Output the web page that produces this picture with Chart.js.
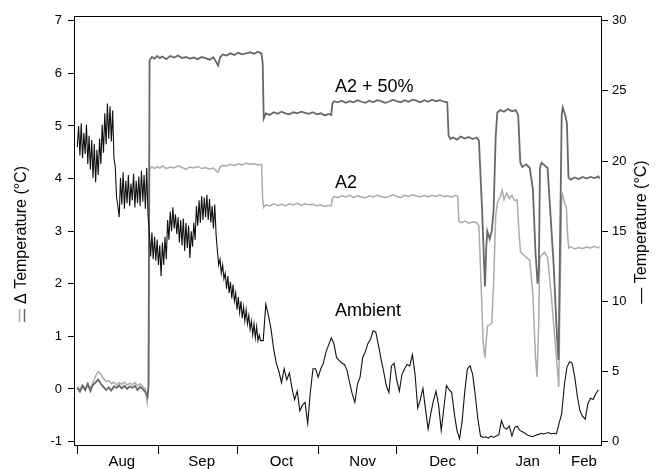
<!DOCTYPE html>
<html>
<head>
<meta charset="utf-8">
<script src="https://cdn.jsdelivr.net/npm/chart.js@4.4.0/dist/chart.umd.min.js"></script>
<style>
  html, body { margin: 0; padding: 0; background: #fff; }
</style>
</head>
<body>
<canvas id="tempChart" width="663" height="469"></canvas>
<script>
// x axis: days counted from 1 Aug
const monthNames = ["Aug", "Sep", "Oct", "Nov", "Dec", "Jan", "Feb"];
const monthStarts = [0, 31, 61, 92, 122, 153, 184];
const monthLabelAt = [17, 47.5, 78, 109, 139.5, 172, 193.5];

const leftTicks = [-1, 0, 1, 2, 3, 4, 5, 6, 7];
const rightTicks = [0, 5, 10, 15, 20, 25, 30];

// ambient temperature (right axis)
// twice a day (day / night) from 1 Aug to day 70
const ambEarly = [
  21.0, 22.5, 20.4, 22.7, 20.2, 22.0, 20.5, 22.6, 19.8, 21.8,
  19.4, 21.5, 18.8, 21.2, 18.5, 20.8, 19.0, 21.6, 19.8, 22.6,
  20.6, 23.4, 21.2, 24.1, 21.6, 23.9, 21.4, 23.6, 20.2, 19.6,
  17.4, 16.8, 16.0, 18.8, 16.9, 19.2, 16.6, 18.6, 17.0, 19.0,
  16.8, 18.4, 17.2, 19.1, 16.7, 18.6, 17.0, 18.9, 16.8, 19.3,
  17.1, 19.0, 16.6, 19.5, 16.2, 15.0, 13.2, 14.9, 13.0, 14.6,
  12.9, 14.4, 12.6, 14.0, 11.8, 14.2, 12.6, 14.6, 13.0, 15.8,
  14.4, 16.4, 15.0, 16.7, 15.2, 16.2, 14.8, 16.0, 14.2, 15.8,
  14.0, 15.9, 13.6, 15.6, 13.8, 15.4, 13.1, 15.0, 13.9, 15.6,
  14.4, 16.8, 15.4, 17.2, 15.6, 17.5, 15.8, 17.4, 16.0, 17.6,
  15.8, 17.3, 15.6, 16.8, 15.2, 16.9, 14.8, 13.6, 12.6, 13.0,
  12.0, 12.6, 11.6, 12.0, 10.9, 11.8, 10.6, 11.4, 10.2, 11.2,
  10.0, 10.6, 9.4, 10.3, 9.2, 10.0, 8.8, 9.6, 8.6, 9.4,
  8.4, 9.0, 8.0, 8.6, 7.6, 8.4, 7.4, 8.2, 7.2, 7.6,
  7.2
];
// once a day from day 71 to day 199
const ambLate = [
  7.2, 9.8, 9.0, 8.0, 6.6, 5.6, 5.0, 4.2, 5.2,
  4.4, 4.9, 3.8, 3.0, 3.6, 2.2, 2.6, 2.8, 1.3, 3.5,
  5.2, 5.2, 4.6, 5.2, 5.6, 6.4, 6.9, 7.4, 7.0, 6.0,
  5.8, 5.6, 5.5, 5.1, 4.2, 3.4, 2.8, 4.1, 4.6, 6.0,
  6.4, 7.0, 7.3, 7.9, 7.8, 6.9, 5.9, 5.0, 4.0, 3.5,
  5.4, 5.6, 4.4, 3.6, 4.8, 5.2, 5.5, 5.4, 6.2, 4.8,
  2.4, 3.0, 3.8, 2.3, 0.9, 2.0, 2.9, 3.6, 2.6, 0.8,
  2.4, 4.0, 3.7, 3.5, 2.0, 0.8, 0.2, 1.5, 3.6, 5.2,
  5.4, 4.8, 3.3, 1.6, 0.4, 0.3, 0.35, 0.25, 0.4, 0.3,
  0.4, 0.5, 1.5, 1.0, 0.9, 1.1, 0.4, 1.0, 1.1, 0.8,
  0.7, 0.6, 0.45, 0.4, 0.35, 0.45, 0.5, 0.6, 0.55, 0.6,
  0.65, 0.55, 0.6, 0.55, 1.3, 2.0, 4.0, 5.3, 5.7, 5.6,
  4.6, 3.2, 2.2, 1.8, 1.6, 2.7, 3.1, 3.0, 3.4, 3.7
];

// A2 + 50% (left axis), [day, delta]
const a2plus50 = [
  [0, 0.02], [1, -0.05], [2, 0.06], [3, -0.02], [4, 0.1], [5, -0.04], [6, 0.08], [7, 0.12], [8, 0.18], [9, 0.1],
  [10, 0.04], [11, -0.02], [12, 0.03], [13, -0.03], [14, 0.05], [15, 0.02], [16, 0.07], [17, 0.01], [18, 0.06], [19, 0.0],
  [20, 0.05], [21, 0.02], [22, 0.06], [23, -0.02], [24, 0.04], [25, 0.0], [26, -0.06], [26.8, -0.15], [27.2, 0.05],
  [27.6, 6.25], [28.5, 6.31], [29.5, 6.28], [30.5, 6.33], [31.5, 6.29], [32.5, 6.32], [34, 6.27], [35.5, 6.33], [37, 6.3], [38.5, 6.34],
  [40, 6.29], [41.5, 6.31], [43, 6.28], [44.5, 6.3], [46, 6.27], [47.5, 6.31], [49, 6.29], [50.5, 6.26], [52, 6.3], [53, 6.22],
  [53.8, 6.15], [54.5, 6.3], [55.5, 6.36], [57, 6.34], [58.5, 6.38], [60, 6.35], [61.5, 6.39], [63, 6.36], [64.5, 6.38], [66, 6.4],
  [67.5, 6.37], [69, 6.41], [70.3, 6.38], [70.8, 6.2], [71.2, 5.14], [72, 5.24], [73.5, 5.21], [75, 5.26], [76.5, 5.23], [78, 5.27],
  [79.5, 5.24], [81, 5.22], [82.5, 5.26], [84, 5.24], [85.5, 5.27], [87, 5.25], [88.5, 5.23], [90, 5.26], [91.5, 5.22], [93, 5.24],
  [94.5, 5.2], [96, 5.23], [97, 5.21], [97.4, 5.42], [98, 5.47], [99.5, 5.45], [101, 5.48], [102.5, 5.44], [104, 5.47], [105.5, 5.45],
  [107, 5.49], [108.5, 5.46], [110, 5.44], [111.5, 5.48], [113, 5.45], [114.5, 5.49], [116, 5.47], [117.5, 5.44], [119, 5.46], [120.5, 5.5],
  [122, 5.47], [123.5, 5.45], [125, 5.49], [126.5, 5.46], [128, 5.5], [129.5, 5.48], [131, 5.45], [132.5, 5.49], [134, 5.46], [135.5, 5.5],
  [137, 5.47], [138.5, 5.49], [140, 5.46], [141.3, 5.45], [141.8, 4.82], [142.5, 4.75], [143.5, 4.78], [145, 4.74], [146.5, 4.8], [148, 4.76],
  [149.5, 4.79], [151, 4.75], [152.5, 4.78], [153.4, 4.72], [154.6, 3.4], [155.7, 1.95], [156.2, 2.7], [156.6, 3.0], [157.5, 2.85], [158.3, 3.0],
  [159, 3.4], [159.8, 4.8], [160.4, 5.25], [161.5, 5.3], [163, 5.27], [164.5, 5.32], [166, 5.28], [167.5, 5.3], [168.4, 5.2], [169.2, 4.3],
  [170, 4.22], [171.5, 4.27], [172.8, 4.2], [174, 3.8], [175, 2.6], [175.8, 2.0], [176.3, 2.3], [176.7, 4.2], [177.3, 4.3], [178.5, 4.25],
  [179.6, 4.2], [180.5, 3.5], [182, 2.3], [183.2, 1.0], [183.8, 0.55], [184.3, 2.5], [185, 5.2], [185.4, 5.35], [186.4, 5.2], [187, 5.05],
  [187.6, 4.02], [188.5, 3.98], [190, 4.02], [191.5, 3.99], [193, 4.03], [194.5, 4.0], [196, 4.03], [197.5, 4.01], [199, 4.04], [199.5, 4.0]
];

// A2 (left axis), [day, delta]
const a2 = [
  [0, 0.05], [1, -0.02], [2, 0.08], [3, 0.0], [4, 0.06], [5, 0.02], [6, 0.12], [7, 0.25], [8, 0.33], [9, 0.28],
  [10, 0.2], [11, 0.14], [12, 0.16], [13, 0.1], [14, 0.13], [15, 0.08], [16, 0.12], [17, 0.09], [18, 0.13], [19, 0.07],
  [20, 0.11], [21, 0.08], [22, 0.12], [23, 0.06], [24, 0.1], [25, 0.05], [26, 0.0], [26.7, -0.25], [27.2, 0.1],
  [27.6, 4.18], [28.5, 4.22], [29.5, 4.19], [30.5, 4.23], [31.5, 4.2], [32.5, 4.24], [34, 4.19], [35.5, 4.22], [37, 4.2], [38.5, 4.24],
  [40, 4.21], [41.5, 4.18], [43, 4.22], [44.5, 4.2], [46, 4.23], [47.5, 4.19], [49, 4.21], [50.5, 4.18], [52, 4.2], [53, 4.15],
  [53.8, 4.12], [54.5, 4.22], [55.5, 4.25], [57, 4.24], [58.5, 4.27], [60, 4.25], [61.5, 4.28], [63, 4.26], [64.5, 4.29], [66, 4.27],
  [67.5, 4.28], [69, 4.26], [70.4, 4.27], [70.8, 3.6], [71.2, 3.45], [72, 3.5], [73.5, 3.48], [75, 3.52], [76.5, 3.49], [78, 3.51],
  [79.5, 3.48], [81, 3.52], [82.5, 3.5], [84, 3.53], [85.5, 3.49], [87, 3.52], [88.5, 3.5], [90, 3.51], [91.5, 3.48], [93, 3.5],
  [94.5, 3.47], [96, 3.49], [97, 3.48], [97.4, 3.62], [98, 3.66], [99.5, 3.64], [101, 3.67], [102.5, 3.65], [104, 3.68], [105.5, 3.64],
  [107, 3.67], [108.5, 3.65], [110, 3.63], [111.5, 3.67], [113, 3.65], [114.5, 3.68], [116, 3.66], [117.5, 3.64], [119, 3.66], [120.5, 3.69],
  [122, 3.66], [123.5, 3.64], [125, 3.68], [126.5, 3.66], [128, 3.69], [129.5, 3.67], [131, 3.65], [132.5, 3.68], [134, 3.65], [135.5, 3.68],
  [137, 3.66], [138.5, 3.69], [140, 3.66], [141.5, 3.67], [143, 3.65], [144.5, 3.68], [145.3, 3.66], [145.7, 3.2], [146.5, 3.16], [148, 3.19],
  [149.5, 3.15], [151, 3.18], [152.5, 3.16], [153.4, 3.1], [154.2, 2.0], [155, 0.9], [155.7, 0.59], [156.3, 1.0], [156.7, 1.2], [157.5, 1.22],
  [158.3, 1.25], [159, 2.0], [159.8, 3.3], [160.5, 3.55], [161.5, 3.65], [162.3, 3.78], [163, 3.6], [164, 3.72], [165, 3.62], [166, 3.68],
  [167, 3.58], [168, 3.6], [168.8, 2.9], [169.3, 2.6], [170.5, 2.55], [171.5, 2.5], [172.8, 2.45], [174, 1.8], [175, 0.6], [175.6, 0.23],
  [176.2, 1.2], [176.6, 2.5], [177.5, 2.55], [178.5, 2.6], [179.6, 2.5], [181, 1.8], [182.5, 0.9], [183.5, 0.3], [183.9, 0.04], [184.3, 1.5],
  [185, 3.65], [185.3, 3.7], [186.3, 3.5], [186.8, 3.45], [187.3, 2.9], [187.7, 2.68], [188.5, 2.7], [190, 2.66], [191.5, 2.69], [193, 2.67],
  [194.5, 2.7], [196, 2.68], [197.5, 2.71], [199, 2.68], [199.5, 2.7]
];

// in-plot labels, placed in left-axis units
const noteText = ["A2 + 50%", "A2", "Ambient"];
const noteDay = [98.4, 98.4, 98.4];
const noteVal = [5.65, 3.82, 1.39];

const FONT = "'Liberation Sans', Arial, Helvetica, sans-serif";
const DARK = "#686868";
const LIGHT = "#ababab";

const toPts = rows => rows.map(r => ({ x: r[0], y: r[1] }));
const ambient = ambEarly.map((t, i) => ({ x: i / 2, y: t }))
  .concat(ambLate.map((t, i) => ({ x: 71 + i, y: t })));

const decor = {
  id: "decor",
  afterDraw(chart) {
    const ctx = chart.ctx;
    const a = chart.chartArea;
    const sx = chart.scales.x, sy = chart.scales.y;
    ctx.save();

    // frame
    ctx.strokeStyle = "#000";
    ctx.lineWidth = 1;
    ctx.strokeRect(a.left + 0.5, a.top + 0.5, a.right - a.left - 1, a.bottom - a.top - 1);

    // series labels
    ctx.fillStyle = "#000";
    ctx.font = "18px " + FONT;
    ctx.textAlign = "left";
    ctx.textBaseline = "alphabetic";
    noteText.forEach((t, i) => {
      ctx.fillText(t, sx.getPixelForValue(noteDay[i]), sy.getPixelForValue(noteVal[i]));
    });

    // left axis title with its two-line key
    ctx.font = "16px " + FONT;
    ctx.textBaseline = "middle";
    ctx.save();
    ctx.translate(22, 322);
    ctx.rotate(-Math.PI / 2);
    ctx.lineWidth = 1.5;
    ctx.strokeStyle = LIGHT;
    ctx.beginPath(); ctx.moveTo(0, -2.5); ctx.lineTo(13, -2.5); ctx.stroke();
    ctx.strokeStyle = DARK;
    ctx.beginPath(); ctx.moveTo(0, 2.5); ctx.lineTo(13, 2.5); ctx.stroke();
    ctx.fillText("Δ Temperature (°C)", 18, 0);
    ctx.restore();

    // right axis title
    ctx.save();
    ctx.translate(642, 232);
    ctx.rotate(-Math.PI / 2);
    ctx.textAlign = "center";
    ctx.fillText("— Temperature (°C)", 0, 0);
    ctx.restore();

    ctx.restore();
  }
};

new Chart(document.getElementById("tempChart"), {
  type: "line",
  data: {
    datasets: [
      {
        label: "Ambient",
        data: ambient,
        yAxisID: "yR",
        borderColor: "#111",
        borderWidth: 1.1,
        pointRadius: 0,
        tension: 0,
        order: 1
      },
      {
        label: "A2 + 50%",
        data: toPts(a2plus50),
        yAxisID: "y",
        borderColor: DARK,
        borderWidth: 1.8,
        pointRadius: 0,
        tension: 0,
        order: 2
      },
      {
        label: "A2",
        data: toPts(a2),
        yAxisID: "y",
        borderColor: LIGHT,
        borderWidth: 1.5,
        pointRadius: 0,
        tension: 0,
        order: 3
      }
    ]
  },
  options: {
    responsive: false,
    animation: false,
    layout: { padding: { top: 16, left: 0, right: 0, bottom: 0 } },
    plugins: {
      legend: { display: false },
      tooltip: { enabled: false }
    },
    scales: {
      x: {
        type: "linear",
        min: -1.26,
        max: 200.4,
        afterBuildTicks: s => {
          s.ticks = monthStarts.concat(monthLabelAt).sort((p, q) => p - q).map(v => ({ value: v }));
        },
        afterFit: s => { s.height = 23; },
        border: { display: false },
        grid: {
          drawOnChartArea: false,
          tickLength: 8,
          color: c => (c.tick && monthStarts.includes(c.tick.value)) ? "#000" : "rgba(0,0,0,0)"
        },
        ticks: {
          autoSkip: false,
          maxRotation: 0,
          padding: -1,
          color: "#000",
          font: { family: FONT, size: 15 },
          callback: v => {
            const i = monthLabelAt.indexOf(v);
            return i < 0 ? "" : monthNames[i];
          }
        }
      },
      y: {
        position: "left",
        min: -1.084,
        max: 7.09,
        afterBuildTicks: s => { s.ticks = leftTicks.map(v => ({ value: v })); },
        afterFit: s => { s.width = 74; },
        border: { display: false },
        grid: { drawOnChartArea: false, tickLength: 6, color: "#000" },
        ticks: { padding: 6, color: "#000", font: { family: FONT, size: 13 } }
      },
      yR: {
        position: "right",
        min: -0.31,
        max: 30.34,
        afterBuildTicks: s => { s.ticks = rightTicks.map(v => ({ value: v })); },
        afterFit: s => { s.width = 61; },
        border: { display: false },
        grid: { drawOnChartArea: false, tickLength: 6, color: "#000" },
        ticks: { padding: 4, color: "#000", font: { family: FONT, size: 13 } }
      }
    }
  },
  plugins: [decor]
});
</script>
</body>
</html>
